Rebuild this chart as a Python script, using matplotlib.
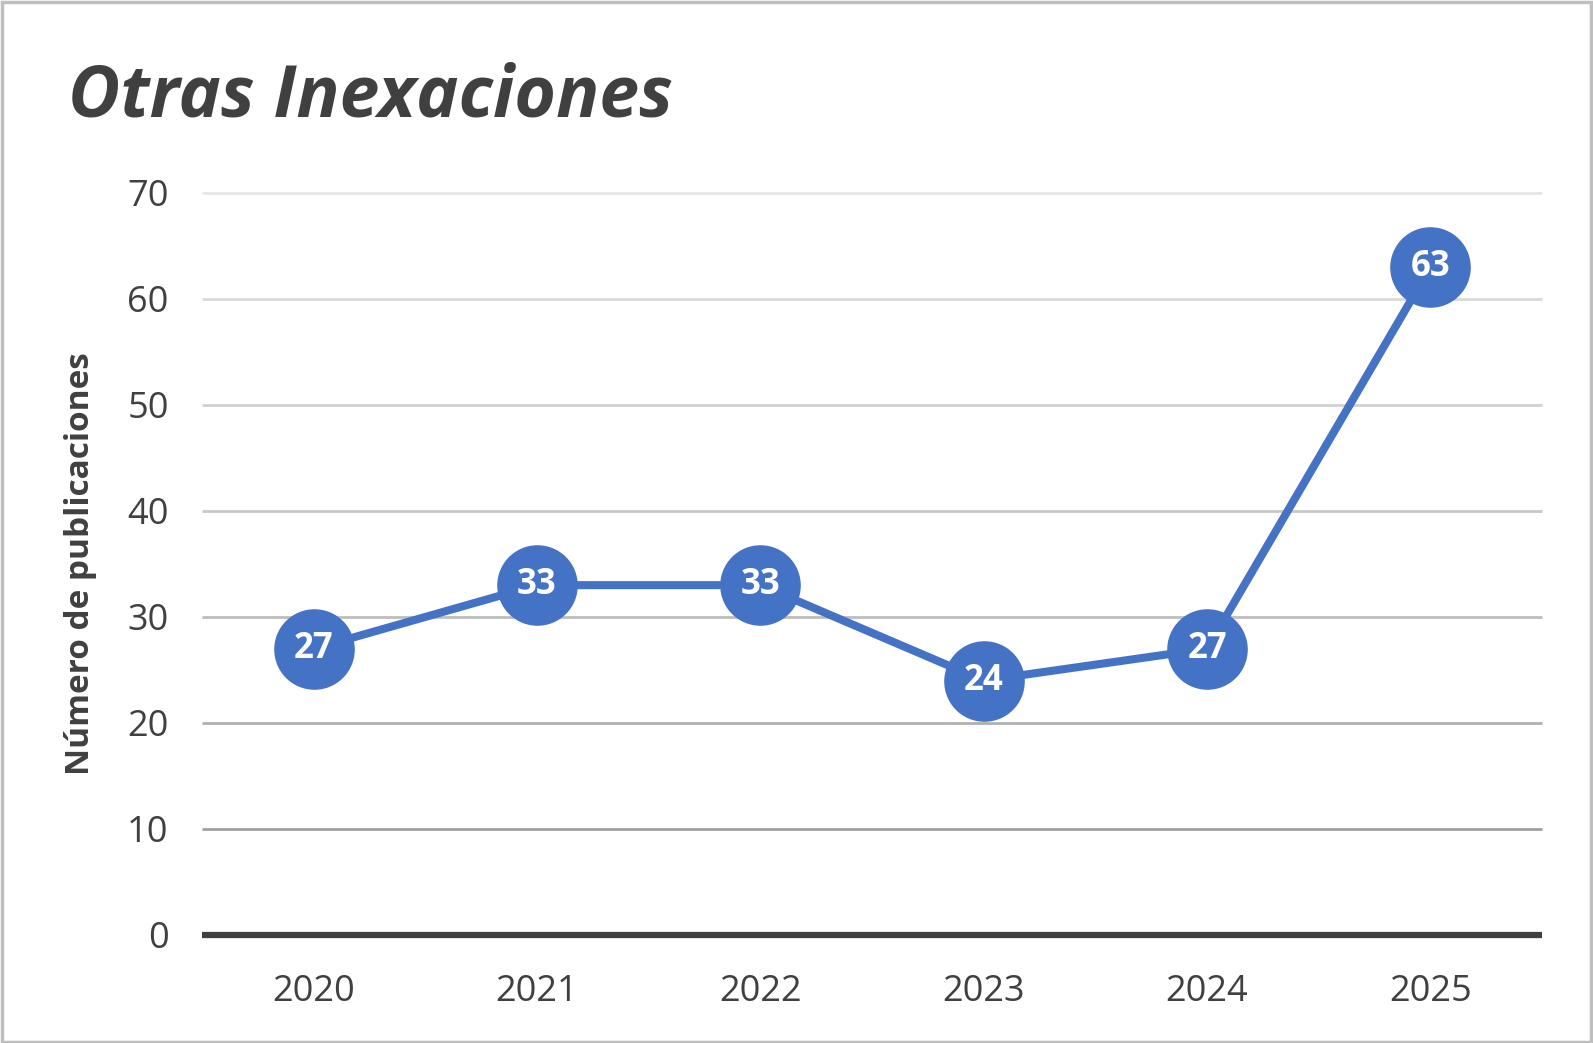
# plot.py
# Line chart of yearly publication counts ("Otras Inexaciones")

import matplotlib.pyplot as plt
from matplotlib.patches import Rectangle

years = ["2020", "2021", "2022", "2023", "2024", "2025"]
counts = [27, 33, 33, 24, 27, 63]
y_ticks = [0, 10, 20, 30, 40, 50, 60, 70]
# gridlines get lighter towards the top, as in the source chart
grid_colors = ["#404040", "#a0a0a0", "#b0b0b0", "#bdbdbd", "#c8c8c8",
               "#d0d0d0", "#d9d9d9", "#e6e6e6"]

title = "Otras Inexaciones"
ylabel = "Número de publicaciones"

blue = "#4472C4"
dark = "#404040"


def main():
    plt.rcParams["font.family"] = ["Open Sans", "DejaVu Sans"]

    fig = plt.figure(figsize=(15.93, 10.43), dpi=100)
    ax = fig.add_axes([0.1268, 0.1036, 0.8412, 0.7114])

    # chart border
    fig.patches.append(Rectangle((0.001, 0.001), 0.998, 0.997, transform=fig.transFigure,
                                 fill=False, edgecolor="#bfbfbf", linewidth=2.5))

    for v, c in zip(y_ticks, grid_colors):
        lw = 4.5 if v == 0 else 2.0
        ax.axhline(v, color=c, lw=lw, zorder=1, solid_capstyle="butt", clip_on=False)

    x = range(len(years))
    ax.plot(x, counts, "-", color=blue, lw=5.8, zorder=2)
    ax.plot(x, counts, "o", color=blue, ms=57, zorder=3)
    for xi, v in zip(x, counts):
        ax.text(xi, v, str(v), ha="center", va="center", color="white",
                fontsize=25, fontweight="bold", zorder=4)

    ax.set_xlim(-0.5, len(years) - 0.5)
    ax.set_ylim(0, 70)
    ax.set_xticks(list(x), years)
    ax.set_yticks(y_ticks)
    ax.tick_params(length=0, labelsize=26, labelcolor=dark)
    ax.tick_params(axis="x", pad=28)
    ax.tick_params(axis="y", pad=24)
    for s in ax.spines.values():
        s.set_visible(False)
    ax.set_ylabel(ylabel, fontsize=24, fontweight="bold", color=dark, labelpad=22)
    ax.patch.set_alpha(0)

    fig.text(0.043, 0.888, title, fontsize=51.5, fontweight="bold", style="italic",
             color=dark, ha="left", va="baseline")

    fig.savefig("out.png", dpi=100)


if __name__ == "__main__":
    main()
